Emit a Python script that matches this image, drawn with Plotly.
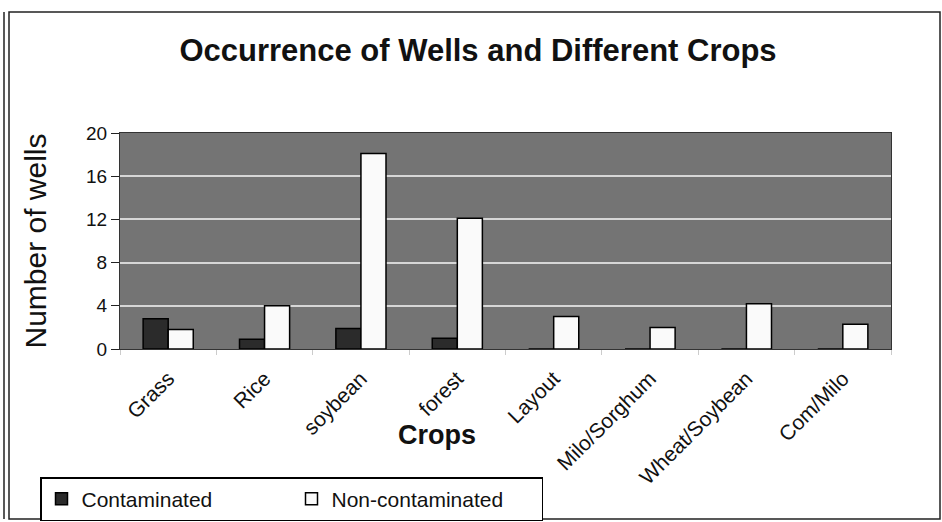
import plotly.graph_objects as go

crops = ["Grass", "Rice", "soybean", "forest", "Layout", "Milo/Sorghum", "Wheat/Soybean", "Com/Milo"]
contaminated = [2.8, 0.9, 1.9, 1.0, 0, 0, 0, 0]
non_contaminated = [1.8, 4.0, 18.1, 12.1, 3.0, 2.0, 4.2, 2.3]
y_ticks = [0, 4, 8, 12, 16, 20]

W, H = 942, 522
L, R, T, B = 120, 51, 133, 173
pw, ph = W - L - R, H - T - B

def px_x(x):
    return (x - L) / pw

def px_y(y):
    return (H - B - y) / ph

FONT = "Liberation Sans, Arial, sans-serif"

fig = go.Figure()
fig.add_trace(go.Bar(
    x=crops, y=contaminated, name="Contaminated",
    marker=dict(color="#2b2b2b", line=dict(color="#000000", width=1.5)),
))
fig.add_trace(go.Bar(
    x=crops, y=non_contaminated, name="Non-contaminated",
    marker=dict(color="#fafafa", line=dict(color="#000000", width=1.5)),
))

fig.update_layout(
    width=W, height=H,
    margin=dict(l=L, r=R, t=T, b=B, autoexpand=False),
    paper_bgcolor="white",
    plot_bgcolor="#747474",
    barmode="group", bargap=0.48, bargroupgap=0,
    font=dict(family=FONT, color="#111111"),
    title=dict(text="<b>Occurrence of Wells and Different Crops</b>",
               x=478 / W, xanchor="center", y=1 - 50 / H, yanchor="middle",
               font=dict(size=31, family=FONT, color="#111111")),
    showlegend=True,
    legend=dict(orientation="h", x=px_x(40), xanchor="left", y=px_y(477), yanchor="top",
                bordercolor="#000000", borderwidth=1.5, bgcolor="white",
                font=dict(size=21, family=FONT), entrywidth=205, entrywidthmode="pixels",
                itemwidth=30, tracegroupgap=0),
)

fig.update_xaxes(
    type="category", tickangle=-45, tickfont=dict(size=21, family=FONT),
    ticks="outside", tickson="boundaries", ticklen=5, tickcolor="#cccccc",
    ticklabelstandoff=8,
    showline=True, linecolor="#333333", linewidth=1, mirror=True,
    showgrid=False, fixedrange=True,
)
fig.update_yaxes(
    range=[0, 20], tickvals=y_ticks, tickfont=dict(size=19, family=FONT),
    ticks="outside", ticklen=8, tickcolor="#222222",
    showline=True, linecolor="#333333", linewidth=1, mirror=True,
    showgrid=True, gridcolor="#d6d6d6", gridwidth=1.5,
    zeroline=False,
    title=dict(text="Number of wells", font=dict(size=30, family=FONT), standoff=30),
)

fig.add_annotation(text="<b>Crops</b>", x=px_x(437), y=px_y(452), xref="paper", yref="paper",
                   showarrow=False, font=dict(size=27, family=FONT, color="#111111"))

# outer frame
fig.add_shape(type="rect", xref="paper", yref="paper",
              x0=px_x(9), x1=px_x(940), y0=px_y(519), y1=px_y(12),
              line=dict(color="#222222", width=1.5), layer="below")
fig.add_shape(type="line", xref="paper", yref="paper",
              x0=px_x(4), x1=px_x(4), y0=px_y(519), y1=px_y(12),
              line=dict(color="#222222", width=1.5))

fig.write_html("out.html", config={"displayModeBar": False},
               post_script="document.body.style.margin='0';document.body.style.overflow='hidden';")
